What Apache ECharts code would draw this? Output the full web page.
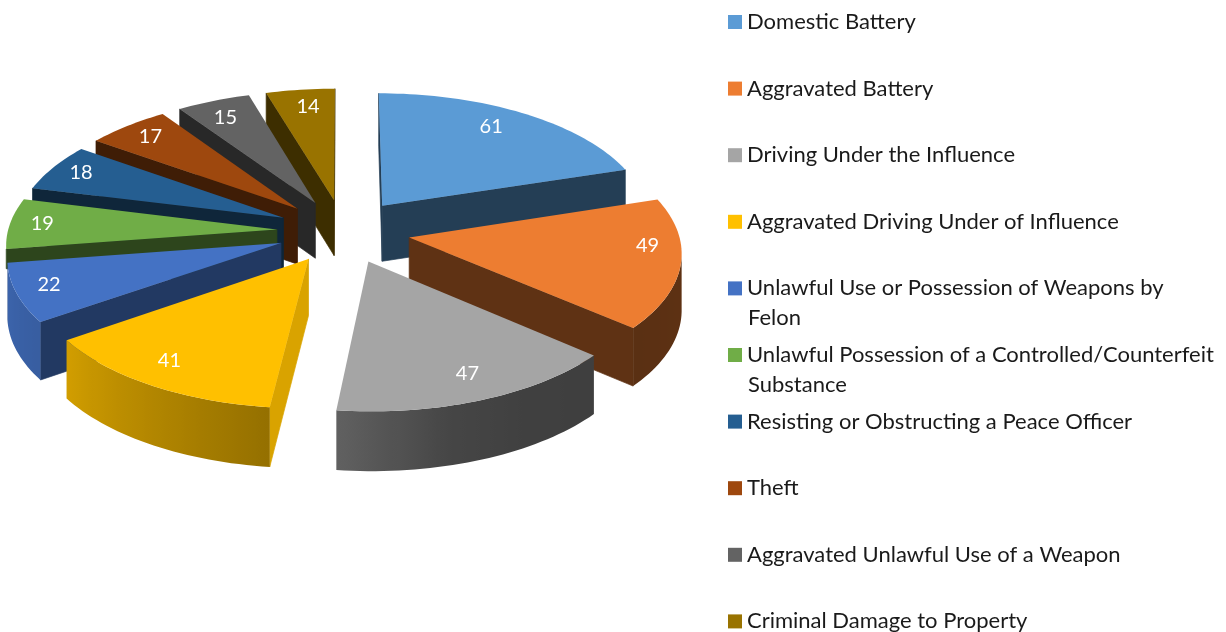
<!DOCTYPE html>
<html>
<head>
<meta charset="utf-8">
<script src="https://cdn.jsdelivr.net/npm/echarts@6/dist/echarts.min.js"></script>
<style>html,body{margin:0;padding:0;background:#fff}#c{width:1226px;height:632px}</style>
</head>
<body>
<div id="c"></div>
<script>
// ---- data ----
const categories = [
  'Domestic Battery',
  'Aggravated Battery',
  'Driving Under the Influence',
  'Aggravated Driving Under of Influence',
  'Unlawful Use or Possession of Weapons by\nFelon',
  'Unlawful Possession of a Controlled/Counterfeit\nSubstance',
  'Resisting or Obstructing a Peace Officer',
  'Theft',
  'Aggravated Unlawful Use of a Weapon',
  'Criminal Damage to Property'
];
const values = [61, 49, 47, 41, 22, 19, 18, 17, 15, 14];

// ---- style ----
const colors = ['#5B9BD5','#ED7D31','#A5A5A5','#FFC000','#4472C4','#70AD47','#255E91','#9E480E','#636363','#997300'];
const FONT = 'Lato';
// disk projection
const CX = 343.5, CY = 231, RX = 269, RY = 128.5, PERSP = 0.1, EXPLODE = 0.248, DEPTH = 56;
// outer-wall lighting: [angle clockwise from top, brightness]
const rimLight = [[0,.4],[72,.41],[131,.38],[150,.39],[165,.42],[186,.58],[235,.82],[261,.88],[262,.4],[360,.4]];
// rim height factor per slice (the green rim sits behind the next slice)
const rimDepth = [1, 1, 1, 1, 1, .35, 1, 1, 1, 1];
// label placement
const LABEL_R = 0.8;
const labelNudge = [[-6,-4],[22,-13],[10,4],[-15,3],[-22,2],[-21,-1],[-17,-5],[-9,-5],[-7,-2],[1.5,-4]];

const total = values.reduce((a, b) => a + b, 0);
let run = 0;
const bounds = values.map(v => { const s = run; run += v; return [s / total * 360, run / total * 360]; });

function rad(d) { return d * Math.PI / 180; }
function project(u, v, drop) {
  const s = 1 / (1 + PERSP * v);
  return [CX + RX * u * s, CY - RY * v * s + drop * DEPTH * Math.sqrt(s)];
}
function diskPoint(i, r, deg, drop) {
  const b = rad((bounds[i][0] + bounds[i][1]) / 2), t = rad(deg);
  return project(EXPLODE * Math.sin(b) + r * Math.sin(t), EXPLODE * Math.cos(b) + r * Math.cos(t), drop);
}
function shade(hex, k) {
  const n = parseInt(hex.slice(1), 16);
  const f = c => Math.round(c * k);
  return 'rgb(' + f(n >> 16 & 255) + ',' + f(n >> 8 & 255) + ',' + f(n & 255) + ')';
}
function rimShade(deg) {
  for (let j = 1; j < rimLight.length; j++) {
    if (deg <= rimLight[j][0]) {
      const a = rimLight[j - 1], b = rimLight[j];
      return a[1] + (b[1] - a[1]) * (deg - a[0]) / (b[0] - a[0]);
    }
  }
  return .4;
}
function quad(p, q, H, fill) {
  return { type: 'polygon', shape: { points: [p, q, H[1], H[0]] },
    style: { fill: fill, stroke: fill, lineWidth: .7 }, silent: true };
}

function renderSlice(i) {
  return function (params, api) {
    const [a, b] = bounds[i];
    const kids = [];
    const apexT = diskPoint(i, 0, a, 0), apexB = diskPoint(i, 0, a, 1);
    const rim = [];
    const N = Math.max(4, Math.ceil((b - a) / 1.5));
    for (let k = 0; k <= N; k++) {
      const d = a + (b - a) * k / N;
      rim.push({ d, t: diskPoint(i, 1, d, 0), g: diskPoint(i, 1, d, rimDepth[i]) });
    }
    const first = rim[0], last = rim[N];
    // radial wall at start angle
    if (first.t[0] < apexT[0]) {
      const normal = a - 90;
      const k = normal > 0 && normal < 110 ? .85 : (normal >= 110 && normal < 160 ? .5 : .4);
      kids.push(quad(apexT, first.t, [apexB, first.g], shade(colors[i], k)));
    }
    // radial wall at end angle
    if (apexT[0] < last.t[0]) {
      kids.push(quad(last.t, apexT, [last.g, apexB], shade(colors[i], .4)));
    }
    // outer wall: the part of the rim that faces the viewer, lit by a gradient
    const vis = [];
    for (let k = 0; k <= N; k++) {
      const faces = (k < N && rim[k + 1].t[0] < rim[k].t[0]) || (k > 0 && rim[k].t[0] < rim[k - 1].t[0]);
      if (faces) vis.push(rim[k]);
    }
    if (vis.length > 1) {
      const xs = vis.map(o => o.t[0]);
      const minX = Math.min.apply(null, xs), maxX = Math.max.apply(null, xs);
      const stops = vis.map(o => ({
        offset: Math.min(1, Math.max(0, (o.t[0] - minX) / (maxX - minX))),
        color: shade(colors[i], rimShade(Math.min(o.d, b - 0.01)))
      })).sort((p, q) => p.offset - q.offset);
      const pts = vis.map(o => o.t).concat(vis.map(o => o.g).reverse());
      kids.push({ type: 'polygon', shape: { points: pts }, silent: true,
        style: { fill: { type: 'linear', x: minX, y: 0, x2: maxX, y2: 0, global: true, colorStops: stops } } });
    }
    // top face
    kids.push({ type: 'polygon', shape: { points: [apexT].concat(rim.map(o => o.t)) },
      style: { fill: colors[i] }, silent: true });
    // value label
    const mid = (a + b) / 2;
    const lp = diskPoint(i, LABEL_R, mid, 0);
    kids.push({ type: 'text', z2: 10, silent: true,
      style: { x: lp[0] + labelNudge[i][0], y: lp[1] + labelNudge[i][1], text: String(api.value(0)),
        fill: '#fff', font: '20px ' + FONT, align: 'center', verticalAlign: 'middle' } });
    return { type: 'group', children: kids };
  };
}

const depthRank = values.map((_, i) => i)
  .sort((p, q) => Math.cos(rad((bounds[q][0] + bounds[q][1]) / 2)) - Math.cos(rad((bounds[p][0] + bounds[p][1]) / 2)));

const names = categories.map(c => c.replace('\n', ' '));
const LEG_X = 728, LEG_Y0 = 11, LEG_STEP = 66.6;

const series = categories.map((c, i) => ({
  type: 'custom',
  name: names[i],
  coordinateSystem: 'none',
  z: 2 + depthRank.indexOf(i),
  itemStyle: { color: colors[i] },
  animation: false,
  data: [[values[i]]],
  renderItem: renderSlice(i)
}));

const legend = categories.map((c, i) => ({
  show: true,
  left: LEG_X,
  top: LEG_Y0 + i * LEG_STEP,
  padding: 0,
  selectedMode: false,
  icon: 'rect',
  itemWidth: 14,
  itemHeight: 14,
  data: [names[i]],
  formatter: () => c.split('\n')[0],
  textStyle: { fontFamily: FONT, fontSize: 22, color: '#1a1a1a', lineHeight: 14 }
}));

const graphic = categories.map((c, i) => c.includes('\n') ? {
  type: 'text', left: LEG_X + 20, top: LEG_Y0 + i * LEG_STEP + 29.5,
  style: { text: c.split('\n')[1], font: '22px ' + FONT, fill: '#1a1a1a' }
} : null).filter(Boolean);

const chart = echarts.init(document.getElementById('c'), null, { renderer: 'canvas' });
chart.setOption({ animation: false, backgroundColor: '#fff', tooltip: { show: false }, legend, graphic, series });
</script>
</body>
</html>
